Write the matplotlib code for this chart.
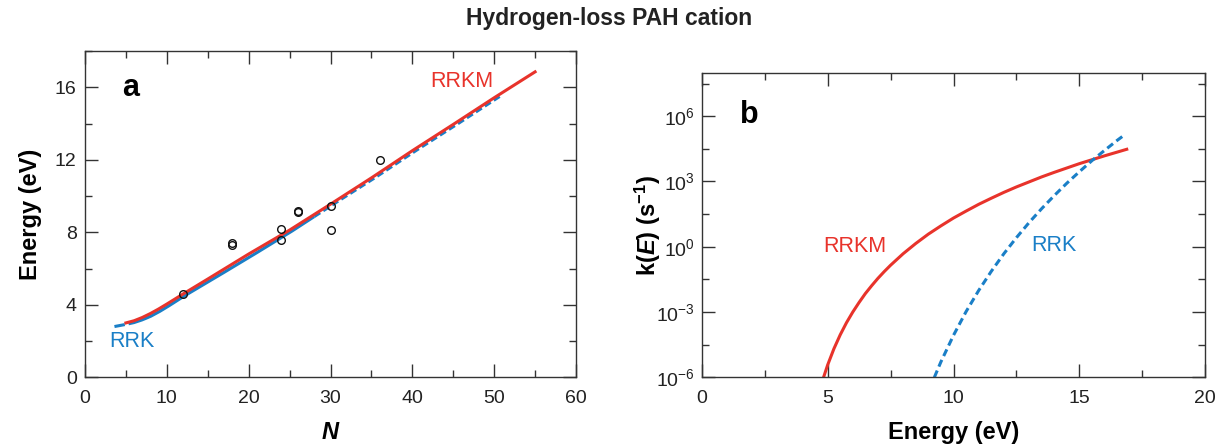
import numpy as np
import matplotlib
matplotlib.use("Agg")
import matplotlib.pyplot as plt
from matplotlib.ticker import MultipleLocator, FixedLocator, NullFormatter

plt.rcParams.update({
    "font.family": ["Liberation Sans", "DejaVu Sans"],
    "mathtext.fontset": "custom",
    "mathtext.rm": "Liberation Sans",
    "mathtext.it": "Liberation Sans:italic:bold",
    "mathtext.bf": "Liberation Sans:bold",
})

RED = "#e8332b"
BLUE = "#1a7fc7"
INK = "#333333"

# ---- Panel a: dissociation energy vs number of carbon atoms ----
n_rrkm = [5, 6, 7, 8, 9, 10, 12, 15, 20, 25, 30, 35, 40, 45, 50, 55]
e_rrkm = [3.0, 3.12, 3.3, 3.52, 3.77, 4.04, 4.6, 5.42, 6.8, 8.12, 9.55, 11.0, 12.5, 13.95, 15.42, 16.85]

n_rrk = [3.6, 5, 6, 7, 8, 9, 10, 12, 15, 20, 25, 30, 35, 40, 45, 50, 51]
e_rrk = [2.8, 2.92, 3.02, 3.17, 3.36, 3.6, 3.87, 4.45, 5.25, 6.6, 7.98, 9.45, 10.88, 12.38, 13.82, 15.3, 15.58]

n_exp = [12, 18, 18, 24, 24, 26, 26, 30, 30, 36]
e_exp = [4.6, 7.3, 7.4, 8.19, 7.59, 9.1, 9.2, 9.45, 8.15, 11.99]

# ---- Panel b: rate coefficients vs internal energy (log10 of k in s^-1) ----
e_k_rrkm = [4.84, 5.0, 5.25, 5.5, 5.75, 6.0, 6.25, 6.5, 6.75, 7.0, 7.25, 7.5, 8.0,
            8.5, 9.0, 9.5, 10.0, 10.5, 11.0, 11.5, 12.0, 12.5, 13.0, 13.5, 14.0,
            14.5, 15.0, 15.5, 16.0, 16.5, 16.88]
logk_rrkm = [-6.0, -5.44, -4.69, -4.05, -3.49, -3.0, -2.56, -2.15, -1.79, -1.45, -1.14,
             -0.85, -0.32, 0.15, 0.58, 0.96, 1.32, 1.64, 1.95, 2.23, 2.5, 2.75, 2.98,
             3.21, 3.42, 3.62, 3.82, 4.0, 4.18, 4.35, 4.48]

e_k_rrk = [9.24, 9.5, 10.0, 10.5, 11.0, 11.5, 12.0, 12.5, 13.0, 13.5, 14.0, 14.5,
           15.0, 15.5, 16.0, 16.5, 16.72]
logk_rrk = [-6.0, -5.29, -4.07, -2.98, -2.01, -1.13, -0.32, 0.42, 1.11, 1.75, 2.35,
            2.92, 3.45, 3.96, 4.43, 4.89, 5.08]

W, H = 1218, 446
fig = plt.figure(figsize=(W / 100, H / 100), dpi=100)

ax_a = fig.add_axes([85 / W, 1 - 377.3 / H, 491 / W, 326.3 / H])
ax_b = fig.add_axes([701.7 / W, 1 - 377.3 / H, 503.6 / W, 304.6 / H])


def style_axes(ax):
    for sp in ax.spines.values():
        sp.set_color(INK)
        sp.set_linewidth(1.0)
    ax.tick_params(which="both", direction="in", top=True, right=True,
                   color=INK, width=1.0, labelsize=14, labelcolor="#222222")
    ax.tick_params(which="major", length=9.5)
    ax.tick_params(which="minor", length=5)
    ax.tick_params(axis="x", which="both", pad=9)
    ax.tick_params(axis="y", which="both", pad=6)


# Panel a
na = np.linspace(n_rrk[0], n_rrk[-1], 300)
ea = np.interp(na, n_rrk, e_rrk)
# dashed ends of the RRK curve, solid middle (mostly beneath RRKM)
m1 = na <= 4.9
m2 = (na >= 5.4) & (na <= 28)
m3 = na >= 28
ax_a.plot(na[m1], ea[m1], color=BLUE, lw=2.2, solid_capstyle="butt")
ax_a.plot(na[m2], ea[m2], color=BLUE, lw=2.2)
ax_a.plot(na[m3], ea[m3], color=BLUE, lw=2.2, dashes=(2.3, 1.2))
ax_a.plot(n_rrkm, e_rrkm, color=RED, lw=2.2)
ax_a.plot(n_exp, e_exp, "o", mfc="none", mec="#111111", ms=5.5, mew=1.0)

ax_a.set_xlim(0, 60)
ax_a.set_ylim(0, 18)
ax_a.xaxis.set_major_locator(MultipleLocator(10))
ax_a.xaxis.set_minor_locator(MultipleLocator(5))
ax_a.yaxis.set_major_locator(FixedLocator([0, 4, 8, 12, 16]))
ax_a.yaxis.set_minor_locator(MultipleLocator(2))
style_axes(ax_a)
ax_a.set_xlabel("N", fontsize=17, fontweight="bold", fontstyle="italic", labelpad=10)
ax_a.set_ylabel("Energy (eV)", fontsize=17, fontweight="bold", labelpad=9)
ax_a.text(0.075, 0.861, "a", transform=ax_a.transAxes, fontsize=22,
          fontweight="bold", ha="left", va="baseline")
ax_a.text(42.2, 16.3, "RRKM", color=RED, fontsize=15.5, ha="left", va="center")
ax_a.text(3.0, 1.95, "RRK", color=BLUE, fontsize=15.5, ha="left", va="center")

# Panel b
ax_b.set_yscale("log")
ax_b.plot(e_k_rrkm, 10.0 ** np.array(logk_rrkm), color=RED, lw=2.2)
ax_b.plot(e_k_rrk, 10.0 ** np.array(logk_rrk), color=BLUE, lw=2.2, dashes=(2.4, 1.4))
ax_b.set_xlim(0, 20)
ax_b.set_ylim(1e-6, 1e8)
ax_b.xaxis.set_major_locator(MultipleLocator(5))
ax_b.xaxis.set_minor_locator(MultipleLocator(2.5))
major_exp = [-6, -3, 0, 3, 6]
ax_b.yaxis.set_major_locator(FixedLocator([10.0 ** p for p in major_exp]))
ax_b.yaxis.set_minor_locator(FixedLocator([10.0 ** p for p in [-4.5, -1.5, 1.5, 4.5, 7.5]]))
ax_b.yaxis.set_minor_formatter(NullFormatter())
ax_b.set_yticklabels([r"$10^{%d}$" % p for p in major_exp])
style_axes(ax_b)
ax_b.tick_params(axis="y", which="both", pad=5)
ax_b.set_xlabel("Energy (eV)", fontsize=17, fontweight="bold", labelpad=10)
ax_b.set_ylabel(r"$\mathbf{k(}\mathit{E}\mathbf{)\ (s}^{\mathbf{-1}}\mathbf{)}$",
                fontsize=17)
ax_b.yaxis.set_label_coords(-0.076, 0.5)
ax_b.text(0.076, 0.834, "b", transform=ax_b.transAxes, fontsize=22,
          fontweight="bold", ha="left", va="baseline")
ax_b.text(4.82, 1.0, "RRKM", color=RED, fontsize=15.5, ha="left", va="center")
ax_b.text(13.1, 1.2, "RRK", color=BLUE, fontsize=15.5, ha="left", va="center")

fig.text(609 / W, 1 - 18 / H, "Hydrogen-loss PAH cation", fontsize=16.5,
         fontweight="bold", ha="center", va="center", color="#222222")

fig.savefig("out.png", dpi=100)
